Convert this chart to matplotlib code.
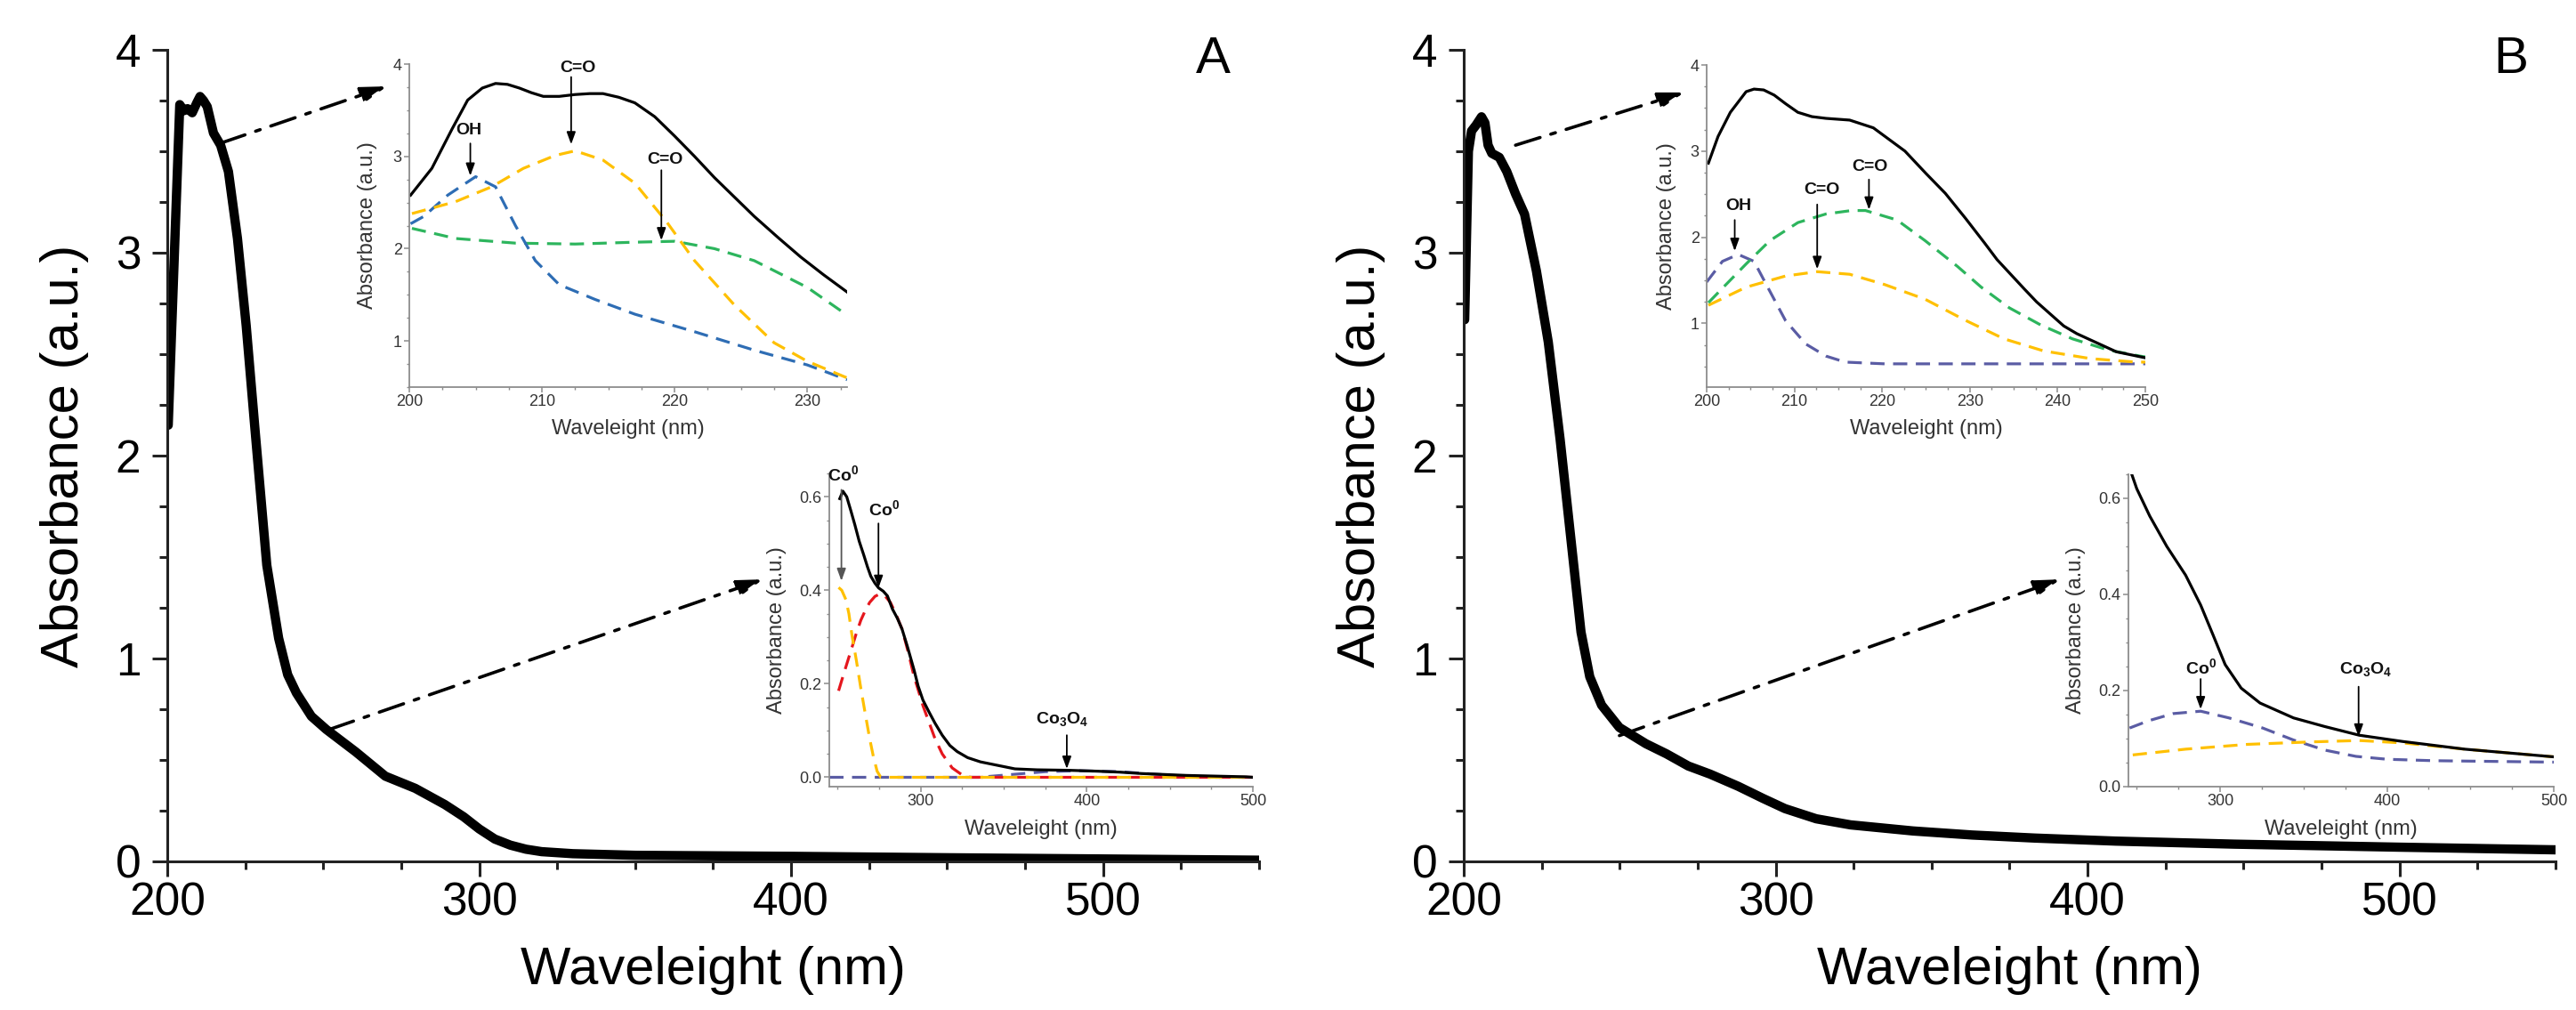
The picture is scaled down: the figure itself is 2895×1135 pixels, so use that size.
import matplotlib
matplotlib.use("Agg")
import matplotlib.pyplot as plt
from matplotlib.ticker import MultipleLocator

plt.rcParams['font.family'] = ['Liberation Sans', 'DejaVu Sans']
plt.rcParams['mathtext.fontset'] = 'custom'
plt.rcParams['mathtext.rm'] = 'Liberation Sans'
plt.rcParams['mathtext.bf'] = 'Liberation Sans:bold'

# ---- main spectra ----
a_wl = [200.3, 204.0, 205.3, 206.5, 208.0, 209.5, 210.5, 211.6, 212.8, 214.8, 217.1, 219.6,
        222.5, 225.3, 228.0, 231.9, 235.7, 238.6, 241.4, 246.2, 251.0, 260.4, 269.9, 279.5,
        289.0, 295.0, 300.0, 305.0, 310.0, 315.0, 320.0, 330.0, 350.0, 400.0, 450.0, 500.0, 550.0]
a_abs = [2.15, 3.73, 3.70, 3.71, 3.69, 3.74, 3.77, 3.75, 3.72, 3.59, 3.53, 3.40,
         3.07, 2.64, 2.15, 1.46, 1.10, 0.92, 0.83, 0.715, 0.65, 0.54, 0.42, 0.36,
         0.28, 0.22, 0.16, 0.11, 0.08, 0.06, 0.048, 0.038, 0.03, 0.025, 0.018, 0.012, 0.006]

b_wl = [200.3, 201.5, 202.5, 204.0, 205.7, 206.8, 207.8, 209.0, 211.4, 213.8, 216.6, 219.5,
        223.3, 227.1, 230.9, 234.7, 237.6, 240.4, 244.2, 249.9, 258.4, 265.0, 272.0, 279.0,
        288.0, 296.0, 303.0, 313.0, 324.0, 344.0, 363.0, 383.0, 409.0, 447.0, 500.0, 550.0]
b_abs = [2.67, 3.50, 3.60, 3.63, 3.67, 3.64, 3.53, 3.49, 3.47, 3.40, 3.29, 3.19,
         2.91, 2.56, 2.08, 1.54, 1.13, 0.91, 0.77, 0.66, 0.58, 0.53, 0.47, 0.43,
         0.37, 0.31, 0.26, 0.21, 0.18, 0.15, 0.13, 0.115, 0.10, 0.085, 0.07, 0.057]

# ---- inset A, 200-233 nm ----
ia_wl = [200.1, 201.7, 203.2, 204.4, 205.5, 206.5, 207.4, 208.3, 209.2, 210.1, 211.3, 212.5,
         213.6, 214.6, 215.8, 217.0, 218.5, 220.0, 221.5, 223.0, 224.5, 226.0, 227.8, 229.5,
         231.2, 233.0]
ia_sum = [2.58, 2.87, 3.29, 3.61, 3.74, 3.79, 3.78, 3.74, 3.69, 3.65, 3.65, 3.67,
          3.68, 3.68, 3.64, 3.58, 3.43, 3.22, 3.00, 2.77, 2.56, 2.35, 2.12, 1.91,
          1.72, 1.53]
ia_yel_wl = [200.2, 203.5, 206.2, 208.6, 211.0, 212.5, 214.6, 217.0, 219.4, 221.5, 224.5, 227.5, 230.0, 233.0]
ia_yel = [2.38, 2.51, 2.67, 2.87, 3.01, 3.06, 2.96, 2.71, 2.29, 1.87, 1.39, 0.98, 0.78, 0.60]
ia_blu_wl = [200.1, 201.1, 202.9, 205.0, 206.5, 208.0, 209.5, 211.3, 214.0, 217.0, 221.5, 226.0, 230.0, 233.0]
ia_blu = [2.27, 2.35, 2.58, 2.78, 2.67, 2.25, 1.87, 1.61, 1.45, 1.29, 1.10, 0.90, 0.74, 0.58]
ia_grn_wl = [200.2, 203.5, 208.0, 212.5, 217.0, 220.0, 223.0, 226.0, 230.0, 233.0]
ia_grn = [2.22, 2.11, 2.06, 2.05, 2.07, 2.08, 2.00, 1.87, 1.58, 1.28]

# ---- inset A, 245-500 nm ----
ja_wl = [251.3, 253.2, 255.5, 258.0, 260.4, 263.0, 265.7, 268.0, 270.0, 272.5, 274.7, 277.5,
         280.0, 283.0, 286.0, 288.8, 292.0, 296.0, 298.5, 301.4, 305.0, 308.6, 313.0, 317.6,
         322.0, 328.3, 336.0, 344.3, 356.8, 370.0, 388.9, 406.6, 420.0, 433.0, 460.0, 496.0, 500.0]
ja_sum = [0.596, 0.612, 0.60, 0.57, 0.54, 0.505, 0.476, 0.45, 0.43, 0.415, 0.405, 0.398,
          0.388, 0.36, 0.34, 0.317, 0.28, 0.23, 0.195, 0.165, 0.14, 0.116, 0.09, 0.068,
          0.055, 0.042, 0.033, 0.027, 0.018, 0.016, 0.015, 0.013, 0.011, 0.008, 0.004, 0.001, 0.0]
ja_yel_wl = [250.6, 252.5, 255.0, 256.8, 258.6, 261.3, 264.0, 266.7, 269.3, 271.5, 273.8, 276.0, 500.0]
ja_yel = [0.406, 0.40, 0.38, 0.35, 0.305, 0.25, 0.19, 0.135, 0.083, 0.045, 0.013, 0.0, 0.0]
ja_red_wl = [250.6, 254.0, 257.7, 261.0, 264.0, 266.7, 269.3, 272.5, 275.4, 278.5, 281.8, 285.0,
             288.8, 292.5, 296.0, 298.7, 301.4, 305.0, 308.6, 313.0, 319.0, 325.0, 330.0, 500.0]
ja_red = [0.185, 0.225, 0.267, 0.305, 0.336, 0.357, 0.374, 0.387, 0.392, 0.388, 0.374, 0.35,
          0.317, 0.268, 0.216, 0.185, 0.153, 0.118, 0.083, 0.05, 0.02, 0.005, 0.0, 0.0]
ja_pur_wl = [245.0, 335.0, 355.0, 375.0, 395.0, 420.0, 440.0, 460.0, 475.0, 500.0]
ja_pur = [0.0, 0.0, 0.006, 0.012, 0.014, 0.012, 0.007, 0.002, 0.0, 0.0]

# ---- inset B, 200-250 nm ----
ib_wl = [200.2, 201.3, 202.7, 204.5, 205.4, 206.5, 207.7, 209.0, 210.4, 212.0, 213.6, 216.3,
         219.0, 222.6, 225.0, 227.2, 229.5, 231.7, 233.1, 236.2, 237.6, 240.7, 242.2, 246.7, 250.0]
ib_sum = [2.86, 3.17, 3.45, 3.69, 3.72, 3.71, 3.65, 3.55, 3.45, 3.40, 3.38, 3.36,
          3.27, 3.00, 2.74, 2.51, 2.22, 1.93, 1.74, 1.40, 1.25, 0.97, 0.88, 0.67, 0.60]
ib_grn_wl = [200.2, 202.2, 204.5, 207.2, 210.4, 213.6, 216.5, 218.1, 221.7, 224.9, 228.6, 231.3,
             234.5, 238.1, 241.7, 245.8, 249.4, 250.0]
ib_grn = [1.24, 1.45, 1.69, 1.96, 2.17, 2.27, 2.31, 2.31, 2.20, 1.96, 1.66, 1.42,
          1.18, 0.98, 0.82, 0.69, 0.62, 0.61]
ib_yel_wl = [200.2, 204.5, 209.0, 212.6, 216.3, 220.3, 224.9, 229.4, 233.9, 238.4, 243.8, 249.0, 250.0]
ib_yel = [1.21, 1.42, 1.55, 1.60, 1.57, 1.45, 1.28, 1.04, 0.82, 0.68, 0.59, 0.55, 0.55]
ib_pur_wl = [200.0, 201.8, 203.6, 205.4, 206.8, 209.0, 211.3, 213.6, 215.8, 220.3, 250.0]
ib_pur = [1.48, 1.72, 1.80, 1.72, 1.45, 1.03, 0.76, 0.62, 0.55, 0.53, 0.53]

# ---- inset B, 245-500 nm ----
jb_wl = [245.0, 250.0, 257.8, 268.0, 279.3, 288.3, 295.7, 303.0, 312.6, 323.9, 344.0, 362.8,
         383.4, 409.4, 446.6, 500.0]
jb_sum = [0.67, 0.62, 0.563, 0.50, 0.44, 0.378, 0.316, 0.254, 0.205, 0.174, 0.143, 0.125,
          0.107, 0.094, 0.078, 0.062]
jb_pur_wl = [245.7, 257.0, 271.8, 288.3, 305.3, 325.5, 344.0, 362.8, 381.4, 400.0, 428.0, 500.0]
jb_pur = [0.122, 0.137, 0.152, 0.157, 0.143, 0.122, 0.097, 0.076, 0.063, 0.057, 0.054, 0.051]
jb_yel_wl = [247.6, 279.3, 316.5, 353.7, 383.4, 409.4, 446.6, 500.0]
jb_yel = [0.066, 0.078, 0.088, 0.093, 0.096, 0.091, 0.078, 0.062]

YELLOW = '#FFC000'
GREEN = '#2DB55D'
BLUE = '#2E6DB4'
RED = '#E5161D'
PURPLE = '#5A5CA4'
DASH = (0, (5, 3))


def main_axes(rect):
    ax = fig.add_axes(rect)
    ax.set_xlim(200, 550)
    ax.set_ylim(0, 4)
    ax.xaxis.set_major_locator(MultipleLocator(100))
    ax.xaxis.set_minor_locator(MultipleLocator(25))
    ax.yaxis.set_major_locator(MultipleLocator(1))
    ax.yaxis.set_minor_locator(MultipleLocator(0.25))
    for s in ['top', 'right']:
        ax.spines[s].set_visible(False)
    for s in ['left', 'bottom']:
        ax.spines[s].set_linewidth(2.2)
        ax.spines[s].set_color('#222222')
    ax.tick_params(which='major', direction='out', length=12.5, width=2.2, labelsize=37,
                   color='#222222')
    ax.tick_params(which='minor', direction='out', length=6.5, width=2.2, color='#222222')
    ax.tick_params(axis='x', which='major', pad=4)
    ax.tick_params(axis='y', which='major', pad=9)
    ax.set_xlabel('Waveleight (nm)', fontsize=43)
    ax.set_ylabel('Absorbance (a.u.)', fontsize=43)
    ax.xaxis.label.set_va('center')
    ax.yaxis.label.set_va('center')
    ax.xaxis.set_label_coords(0.5, -0.134)
    ax.yaxis.set_label_coords(-0.0945, 0.5)
    return ax


def inset_axes(rect, xlim, ylim, xmaj, xmin, ymaj, ymin, ylab_x, xlab_y):
    ax = fig.add_axes(rect)
    ax.set_facecolor('none')
    ax.set_xlim(*xlim)
    ax.set_ylim(*ylim)
    ax.xaxis.set_major_locator(MultipleLocator(xmaj))
    ax.xaxis.set_minor_locator(MultipleLocator(xmin))
    ax.yaxis.set_major_locator(MultipleLocator(ymaj))
    ax.yaxis.set_minor_locator(MultipleLocator(ymin))
    for s in ['top', 'right']:
        ax.spines[s].set_visible(False)
    for s in ['left', 'bottom']:
        ax.spines[s].set_linewidth(1.3)
        ax.spines[s].set_color('#8c8c8c')
    ax.tick_params(which='major', direction='out', length=4, width=1.1, color='#8c8c8c',
                   labelsize=13, labelcolor='#333333', pad=2)
    ax.tick_params(which='minor', direction='out', length=2.5, width=1.0, color='#8c8c8c')
    ax.set_xlabel('Waveleight (nm)', fontsize=17, color='#333333')
    ax.set_ylabel('Absorbance (a.u.)', fontsize=17, color='#333333')
    ax.xaxis.label.set_va('center')
    ax.yaxis.label.set_va('center')
    ax.xaxis.set_label_coords(0.5, xlab_y)
    ax.yaxis.set_label_coords(ylab_x, 0.5)
    return ax


def mark(ax, label, tx, ty, ax_x, y0, y1, color='black'):
    ax.text(tx, ty, label, fontsize=14, fontweight='bold', ha='center', va='center',
            color='#111111', clip_on=False)
    ax.annotate('', xy=(ax_x, y1), xytext=(ax_x, y0), annotation_clip=False,
                arrowprops=dict(arrowstyle='-|>,head_length=0.55,head_width=0.2',
                                lw=1.3, color=color, mutation_scale=15,
                                shrinkA=0, shrinkB=0))


def pointer(ax, start, tip):
    ax.annotate('', xy=tip, xytext=start,
                arrowprops=dict(arrowstyle='-|>,head_length=0.8,head_width=0.25',
                                lw=2.6, ls=(0, (8, 3.5, 1.5, 3.5)), color='black',
                                mutation_scale=22, shrinkA=0, shrinkB=0))


fig = plt.figure(figsize=(28.95, 11.35), dpi=100)

CO0 = r'$\mathbf{Co^{0}}$'
CO3O4 = r'$\mathbf{Co_{3}O_{4}}$'

# ================= panel A =================
axA = main_axes([0.06494, 0.14714, 0.42383, 0.80352])
axA.plot(a_wl, a_abs, color='black', lw=7.5, solid_joinstyle='round', solid_capstyle='round')
pointer(axA, (217.1, 3.54), (270.4, 3.82))
pointer(axA, (251.9, 0.65), (391.0, 1.39))
fig.text(0.4708, 0.941, 'A', fontsize=42, ha='center', va='center')

inA1 = inset_axes([0.15889, 0.61674, 0.16995, 0.31982], (200, 233), (0.5, 4.0),
                  10, 2.5, 1, 0.25, -0.0955, -0.129)
inA1.plot(ia_grn_wl, ia_grn, color=GREEN, lw=2.3, ls=DASH)
inA1.plot(ia_blu_wl, ia_blu, color=BLUE, lw=2.3, ls=DASH)
inA1.plot(ia_yel_wl, ia_yel, color=YELLOW, lw=2.3, ls=DASH)
inA1.plot(ia_wl, ia_sum, color='black', lw=2.3)
mark(inA1, 'OH', 204.5, 3.28, 204.6, 3.14, 2.79)
mark(inA1, 'C=O', 212.7, 3.96, 212.2, 3.86, 3.13)
mark(inA1, 'C=O', 219.3, 2.96, 219.0, 2.85, 2.09)

inA2 = inset_axes([0.32193, 0.22115, 0.16442, 0.31013], (245, 500), (-0.02, 0.65),
                  100, 25, 0.2, 0.05, -0.124, -0.136)
inA2.plot(ja_pur_wl, ja_pur, color=PURPLE, lw=2.3, ls=DASH)
inA2.plot(ja_red_wl, ja_red, color=RED, lw=2.3, ls=DASH)
inA2.plot(ja_yel_wl, ja_yel, color=YELLOW, lw=2.3, ls=DASH)
inA2.plot(ja_wl, ja_sum, color='black', lw=2.3)
mark(inA2, CO0, 253.5, 0.647, 252.3, 0.615, 0.42, color='#555555')
mark(inA2, CO0, 278.0, 0.573, 274.6, 0.543, 0.405)
mark(inA2, CO3O4, 385.0, 0.125, 388.0, 0.09, 0.018)

# ================= panel B =================
axB = main_axes([0.56822, 0.14714, 0.42383, 0.80352])
axB.plot(b_wl, b_abs, color='black', lw=7.5, solid_joinstyle='round', solid_capstyle='round')
pointer(axB, (216.6, 3.53), (270.7, 3.79))
pointer(axB, (249.9, 0.62), (391.2, 1.39))
fig.text(0.9748, 0.941, 'B', fontsize=42, ha='center', va='center')

inB1 = inset_axes([0.66252, 0.61674, 0.17029, 0.31894], (200, 250), (0.26, 4.0),
                  10, 2.5, 1, 0.25, -0.091, -0.129)
inB1.plot(ib_pur_wl, ib_pur, color=PURPLE, lw=2.3, ls=DASH)
inB1.plot(ib_yel_wl, ib_yel, color=YELLOW, lw=2.3, ls=DASH)
inB1.plot(ib_grn_wl, ib_grn, color=GREEN, lw=2.3, ls=DASH)
inB1.plot(ib_wl, ib_sum, color='black', lw=2.3)
mark(inB1, 'OH', 203.6, 2.36, 203.2, 2.20, 1.84)
mark(inB1, 'C=O', 213.1, 2.55, 212.6, 2.38, 1.63)
mark(inB1, 'C=O', 218.6, 2.82, 218.5, 2.67, 2.32)

inB2 = inset_axes([0.82625, 0.22115, 0.16511, 0.30925], (245, 500), (0.0, 0.65),
                  100, 25, 0.2, 0.05, -0.124, -0.136)
inB2.plot(jb_pur_wl, jb_pur, color=PURPLE, lw=2.3, ls=DASH)
inB2.plot(jb_yel_wl, jb_yel, color=YELLOW, lw=2.3, ls=DASH)
inB2.plot(jb_wl, jb_sum, color='black', lw=2.3)
mark(inB2, CO0, 288.3, 0.248, 288.3, 0.224, 0.161)
mark(inB2, CO3O4, 387.0, 0.245, 383.0, 0.208, 0.104)

fig.savefig('out.png', dpi=100)
